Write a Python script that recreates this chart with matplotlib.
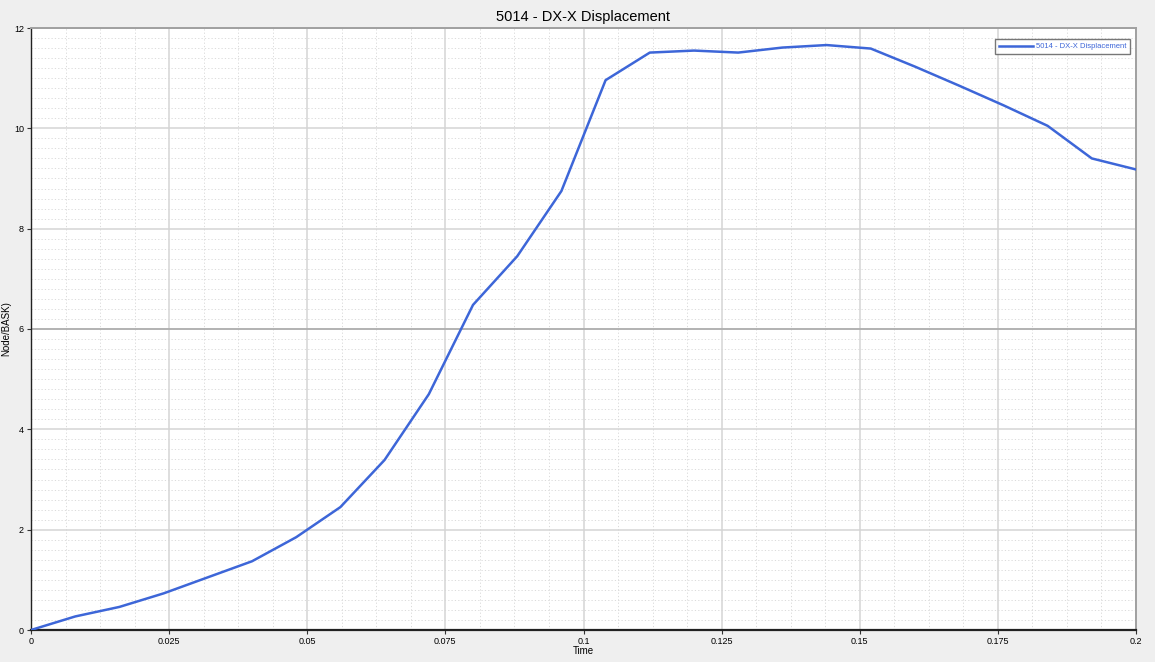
import numpy as np
import matplotlib
matplotlib.use("Agg")
import matplotlib.pyplot as plt
from matplotlib.ticker import MultipleLocator

# values
time = [0.0, 0.008, 0.016, 0.024, 0.032, 0.040, 0.048, 0.056, 0.064, 0.072,
        0.080, 0.088, 0.096, 0.104, 0.112, 0.120, 0.128, 0.136, 0.144, 0.152,
        0.160, 0.168, 0.176, 0.184, 0.192, 0.200]
disp = [0.0, 0.27, 0.46, 0.73, 1.05, 1.37, 1.85, 2.45, 3.39, 4.70,
        6.48, 7.45, 8.75, 10.96, 11.51, 11.55, 11.51, 11.61, 11.66, 11.59,
        11.23, 10.85, 10.46, 10.05, 9.40, 9.18]
xticks = [0, 0.025, 0.05, 0.075, 0.1, 0.125, 0.15, 0.175, 0.2]
xlabels = ["0", "0.025", "0.05", "0.075", "0.1", "0.125", "0.15", "0.175", "0.2"]
yticks = [0, 2, 4, 6, 8, 10, 12]

plt.rcParams['font.family'] = ['Liberation Sans', 'DejaVu Sans']

fig = plt.figure(figsize=(11.55, 6.62), dpi=100, facecolor='#efefef')
ax = fig.add_axes([31/1155, 1-630/662, (1136-31)/1155, (630-28)/662])
ax.set_facecolor('white')

ax.plot(time, disp, color='#3d66d8', lw=1.8, label='5014 - DX-X Displacement', zorder=3)

ax.set_xlim(0, 0.2)
ax.set_ylim(0, 12)
ax.set_xticks(xticks)
ax.set_xticklabels(xlabels)
ax.set_yticks(yticks)
ax.xaxis.set_minor_locator(MultipleLocator(0.00625))
ax.yaxis.set_minor_locator(MultipleLocator(0.2))

ax.grid(which='major', color='#d4d4d4', lw=1.1, ls='-')
ax.grid(which='minor', color='#d6d6d6', lw=0.6, ls=(0, (1.5, 2.5)))
ax.axhline(6, color='#a8a8a8', lw=1.1, zorder=1)
ax.set_axisbelow(True)

ax.tick_params(which='major', length=3, labelsize=6.5, pad=2, color='#333333')
ax.tick_params(which='minor', length=0)

for s in ['left', 'bottom']:
    ax.spines[s].set_color('#222222')
ax.spines['bottom'].set_linewidth(1.6)
ax.spines['left'].set_linewidth(1.0)
for s in ['top', 'right']:
    ax.spines[s].set_color('#a0a0a0')
    ax.spines[s].set_linewidth(1.4)

ax.set_title('5014 - DX-X Displacement', fontsize=10.5, pad=5)
ax.set_xlabel('Time', fontsize=7, labelpad=0)
ax.set_ylabel('Node/BASK)', fontsize=7)
ax.yaxis.set_label_coords(-0.018, 0.5)

leg = ax.legend(loc='upper right', fontsize=5.5, frameon=True, fancybox=False,
                borderpad=0.5, handlelength=4.5, handletextpad=0.3,
                bbox_to_anchor=(0.998, 0.988))
leg.get_frame().set_edgecolor('#555555')
leg.get_frame().set_linewidth(1.0)
for t in leg.get_texts():
    t.set_color('#3d66d8')

fig.savefig('out.png', dpi=100, facecolor=fig.get_facecolor())
